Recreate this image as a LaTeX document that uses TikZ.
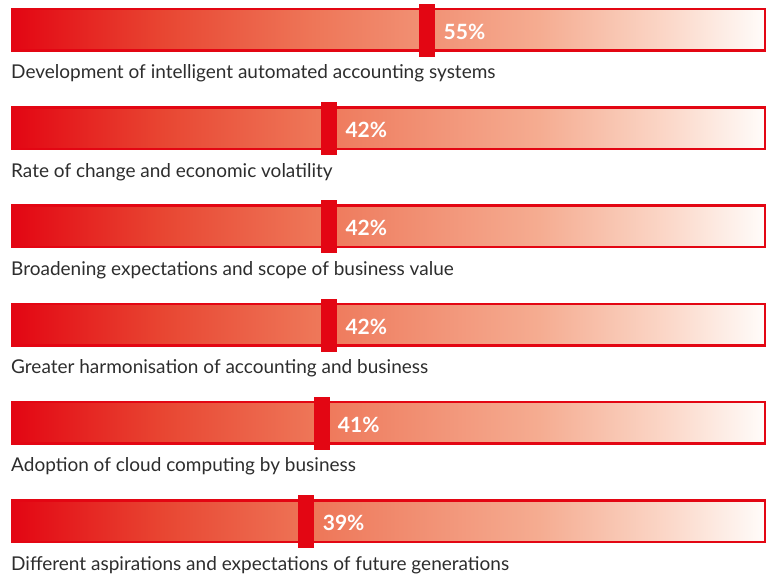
\documentclass[tikz,border=0pt]{standalone}
\usepackage{fontspec}
\setmainfont{Lato}
\newfontfamily\numfont{Lato}[UprightFont=* Bold]
\definecolor{barred}{RGB}{227,6,19}
\definecolor{labelgray}{RGB}{45,45,45}
\definecolor{gA}{RGB}{227,6,19}
\definecolor{gB}{RGB}{232,70,50}
\definecolor{gC}{RGB}{238,118,88}
\definecolor{gD}{RGB}{245,172,145}
\definecolor{gE}{RGB}{251,215,200}
\definecolor{gF}{RGB}{255,252,250}
\pgfdeclarehorizontalshading{barshade}{100bp}{color(0bp)=(gA); color(25bp)=(gA); color(35bp)=(gB); color(45bp)=(gC); color(60bp)=(gD); color(68.5bp)=(gE); color(75bp)=(gF); color(100bp)=(gF)}
\tikzset{
  barbox/.style={draw=barred, line width=2.5bp, shading=barshade},
  marker/.style={fill=barred, draw=none},
  pct/.style={text=white, font=\numfont\fontsize{21bp}{24bp}\selectfont, anchor=west, inner sep=0pt},
  lbl/.style={text=labelgray, font=\fontsize{19bp}{22bp}\selectfont, anchor=base west, inner sep=0pt}
}
\begin{document}
\begin{tikzpicture}[x=1bp,y=-1bp]
\useasboundingbox (0,0) rectangle (768,575);
\foreach \i/\p/\t in {0/55/{Development of intelligent automated accounting systems},
                      1/42/{Rate of change and economic volatility},
                      2/42/{Broadening expectations and scope of business value},
                      3/42/{Greater harmonisation of accounting and business},
                      4/41/{Adoption of cloud computing by business},
                      5/39/{Different aspirations and expectations of future generations}}{
  \pgfmathsetmacro{\top}{8+98.2*\i}
  \pgfmathsetmacro{\cx}{12+7.55*\p}
  \path[barbox] (12.25,\top+1.25) rectangle (764.75,\top+42.75);
  \node[marker, minimum width=16bp, minimum height=53bp, inner sep=0pt] (m\i) at (\cx,\top+22.5) {};
  \node[pct] (p\i) at ([xshift=8bp,yshift=-1.5bp]m\i.east) {\p\%};
  \node[lbl] (l\i) at (11,\top+71) {\t};
}
\end{tikzpicture}
\end{document}
